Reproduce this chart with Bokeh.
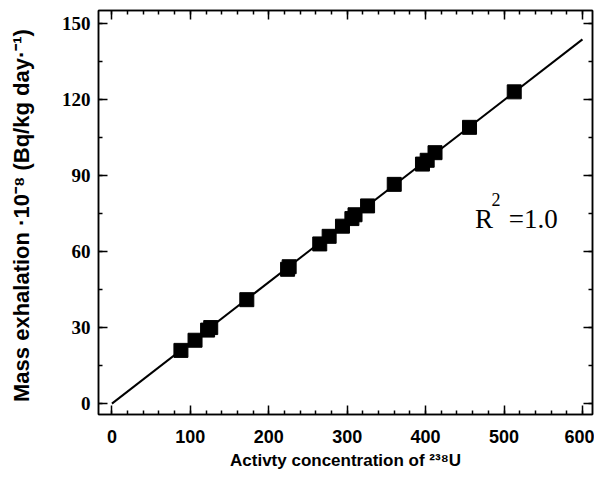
from bokeh.plotting import figure
from bokeh.models import Range1d, FixedTicker, LinearAxis, ColumnDataSource
from bokeh.core.properties import value
from bokeh.embed import file_html
from bokeh.resources import INLINE

# data
activity = [88, 106, 122, 126, 172, 224, 226, 265, 277, 294, 306, 310, 326, 360, 396, 402, 412, 456, 513]
exhalation = [21, 25, 29, 30, 41, 53, 54, 63, 66, 70, 73, 74.5, 78, 86.5, 94.5, 96, 99, 109, 123]
fit_x = [0, 600]
fit_y = [0, 143.7]
x_ticks = [0, 100, 200, 300, 400, 500, 600]
y_ticks = [0, 30, 60, 90, 120, 150]
r2_label = "R"
r2_sup = "2"
r2_value = "=1.0"

p = figure(width=594, height=472, output_backend="svg", toolbar_location=None,
           x_range=Range1d(-17.1, 612.8), y_range=Range1d(-4.3, 155.1),
           min_border_left=98, min_border_right=2, min_border_top=10, min_border_bottom=58,
           x_axis_label="Activty concentration of \u00b2\u00b3\u2078U",
           y_axis_label="Mass exhalation \u00b710\u207b\u2078  (Bq/kg day\u00b7\u207b\u00b9)")

p.grid.visible = False
p.outline_line_color = "black"
p.outline_line_width = 1.5
p.background_fill_color = "white"
p.border_fill_color = "white"

xt = FixedTicker(ticks=x_ticks, minor_ticks=list(range(-20, 620, 20)))
yt = FixedTicker(ticks=y_ticks, minor_ticks=list(range(0, 156, 15)))

def style(ax, ticker, labels=True):
    ax.ticker = ticker
    ax.axis_line_color = "black"
    ax.axis_line_width = 1.5
    ax.major_tick_in = 9
    ax.major_tick_out = 0
    ax.minor_tick_in = 4
    ax.minor_tick_out = 0
    ax.major_tick_line_color = "black"
    ax.major_tick_line_width = 1.5
    ax.minor_tick_line_color = "black"
    ax.minor_tick_line_width = 1.5
    ax.major_label_text_color = "black"
    ax.axis_label_text_color = "black"
    if not labels:
        ax.major_label_text_color = None
        ax.major_label_text_font_size = "1px"
        ax.major_label_standoff = 0

xa = p.xaxis[0]
style(xa, xt)
xa.major_label_text_font = "Liberation Sans"
xa.major_label_text_font_style = "bold"
xa.major_label_text_font_size = "18px"
xa.major_label_standoff = 15
xa.axis_label_text_font = "Liberation Sans"
xa.axis_label_text_font_style = "bold"
xa.axis_label_text_font_size = "17px"
xa.axis_label_standoff = 5

ya = p.yaxis[0]
style(ya, yt)
ya.major_label_text_font = "Liberation Sans Narrow"
ya.major_label_text_font_style = "bold"
ya.major_label_text_font_size = "19px"
ya.major_label_standoff = 8
ya.axis_label_text_font = "Liberation Sans"
ya.axis_label_text_font_style = "bold"
ya.axis_label_text_font_size = "22px"
ya.axis_label_standoff = 25

top = LinearAxis()
style(top, FixedTicker(ticks=x_ticks, minor_ticks=list(range(-20, 620, 20))), labels=False)
p.add_layout(top, "above")
right = LinearAxis()
style(right, FixedTicker(ticks=y_ticks, minor_ticks=list(range(0, 156, 15))), labels=False)
p.add_layout(right, "right")

p.line(fit_x, fit_y, line_color="black", line_width=2)
src = ColumnDataSource(dict(x=activity, y=exhalation))
p.scatter("x", "y", source=src, marker="square", size=14, fill_color="black", line_color="black")

p.text(x=[463], y=[73], text=[r2_label], text_font=value("Liberation Serif"),
       text_font_size="27px", text_color="black", text_baseline="alphabetic")
p.text(x=[484], y=[80.5], text=[r2_sup], text_font=value("Liberation Serif"),
       text_font_size="18px", text_color="black", text_baseline="alphabetic")
p.text(x=[506], y=[73], text=[r2_value], text_font=value("Liberation Serif"),
       text_font_size="27px", text_color="black", text_baseline="alphabetic")

open("out.html", "w").write(file_html(p, INLINE))
